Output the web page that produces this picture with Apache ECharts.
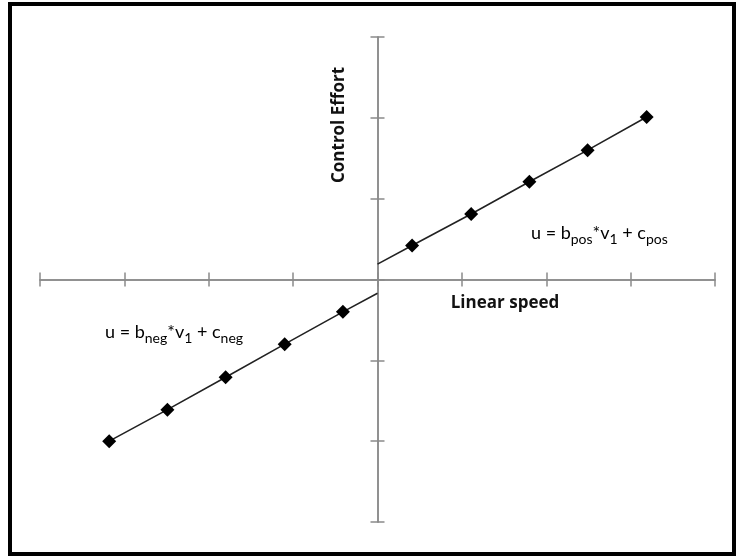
<!DOCTYPE html>
<html>
<head>
<meta charset="utf-8">
<script src="https://cdn.jsdelivr.net/npm/echarts@6/dist/echarts.min.js"></script>
<style>html,body{margin:0;padding:0;background:#fff}#c{width:737px;height:556px}</style>
</head>
<body>
<div id="c"></div>
<script>
// Data
var negX = [-3.18, -2.49, -1.80, -1.10, -0.41];
var negY = [-2.00, -1.61, -1.21, -0.80, -0.40];
var posX = [0.41, 1.11, 1.80, 2.49, 3.19];
var posY = [0.42, 0.81, 1.21, 1.60, 2.01];
var negLineEnd = [0, -0.17];   // negative line meets the vertical axis
var posLineStart = [0, 0.19];  // positive line starts at the vertical axis
var xRange = [-4, 4];
var yRange = [-3, 3];
var xTitle = 'Linear speed';
var yTitle = 'Control Effort';

var axisGray = '#8a8a8a';
var chart = echarts.init(document.getElementById('c'));

function pts(xs, ys) { return xs.map(function (x, i) { return [x, ys[i]]; }); }

var negData = pts(negX, negY).concat([{ value: negLineEnd, symbol: 'none' }]);
var posData = [{ value: posLineStart, symbol: 'none' }].concat(pts(posX, posY));

function xAx(g, inside) {
  return {
    type: 'value', gridIndex: g, min: xRange[0], max: xRange[1], interval: 1,
    axisLine: { onZero: true, lineStyle: { color: axisGray, width: 1.5 } },
    axisTick: { show: true, inside: inside, length: 7, lineStyle: { color: axisGray, width: 1.5 } },
    axisLabel: { show: false }, splitLine: { show: false }
  };
}
function yAx(g, inside) {
  return {
    type: 'value', gridIndex: g, min: yRange[0], max: yRange[1], interval: 1,
    axisLine: { onZero: true, lineStyle: { color: axisGray, width: 1.5 } },
    axisTick: { show: true, inside: inside, length: 7, lineStyle: { color: axisGray, width: 1.5 } },
    axisLabel: { show: false }, splitLine: { show: false }
  };
}

var eqRich = {
  n: { fontFamily: 'Lato', fontSize: 18, color: '#222', lineHeight: 22, verticalAlign: 'top' },
  s: { fontFamily: 'Lato', fontSize: 14, color: '#222', lineHeight: 22, verticalAlign: 'bottom' }
};

var gridBox = { left: 40, right: 22, top: 37, bottom: 34 };

chart.setOption({
  animation: false,
  backgroundColor: '#fff',
  grid: [gridBox, Object.assign({}, gridBox)],
  xAxis: [xAx(0, false), xAx(1, true)],
  yAxis: [yAx(0, false), yAx(1, true)],
  series: [
    {
      type: 'line', xAxisIndex: 0, yAxisIndex: 0, data: negData, symbol: 'diamond', symbolSize: 14,
      itemStyle: { color: '#000' }, lineStyle: { color: '#222', width: 1.6 }, z: 5
    },
    {
      type: 'line', xAxisIndex: 0, yAxisIndex: 0, data: posData, symbol: 'diamond', symbolSize: 14,
      itemStyle: { color: '#000' }, lineStyle: { color: '#222', width: 1.6 }, z: 5
    }
  ],
  graphic: [
    { type: 'rect', shape: { x: 10, y: 4, width: 724, height: 550 }, style: { fill: 'none', stroke: '#000', lineWidth: 4 }, z: 100 },
    { type: 'text', x: 505, y: 303, style: { text: xTitle, font: 'bold 17px "Open Sans"', fill: '#111', align: 'center', verticalAlign: 'middle' } },
    { type: 'text', x: 339, y: 125, rotation: Math.PI / 2, style: { text: yTitle, font: 'bold 17px "Open Sans"', fill: '#111', align: 'center', verticalAlign: 'middle' } },
    { type: 'text', x: 531, y: 224, style: { text: '{n|u = b}{s|pos}{n|*v}{s|1}{n| + c}{s|pos}', rich: eqRich, verticalAlign: 'top' } },
    { type: 'text', x: 105, y: 323, style: { text: '{n|u = b}{s|neg}{n|*v}{s|1}{n| + c}{s|neg}', rich: eqRich, verticalAlign: 'top' } }
  ]
});
</script>
</body>
</html>
